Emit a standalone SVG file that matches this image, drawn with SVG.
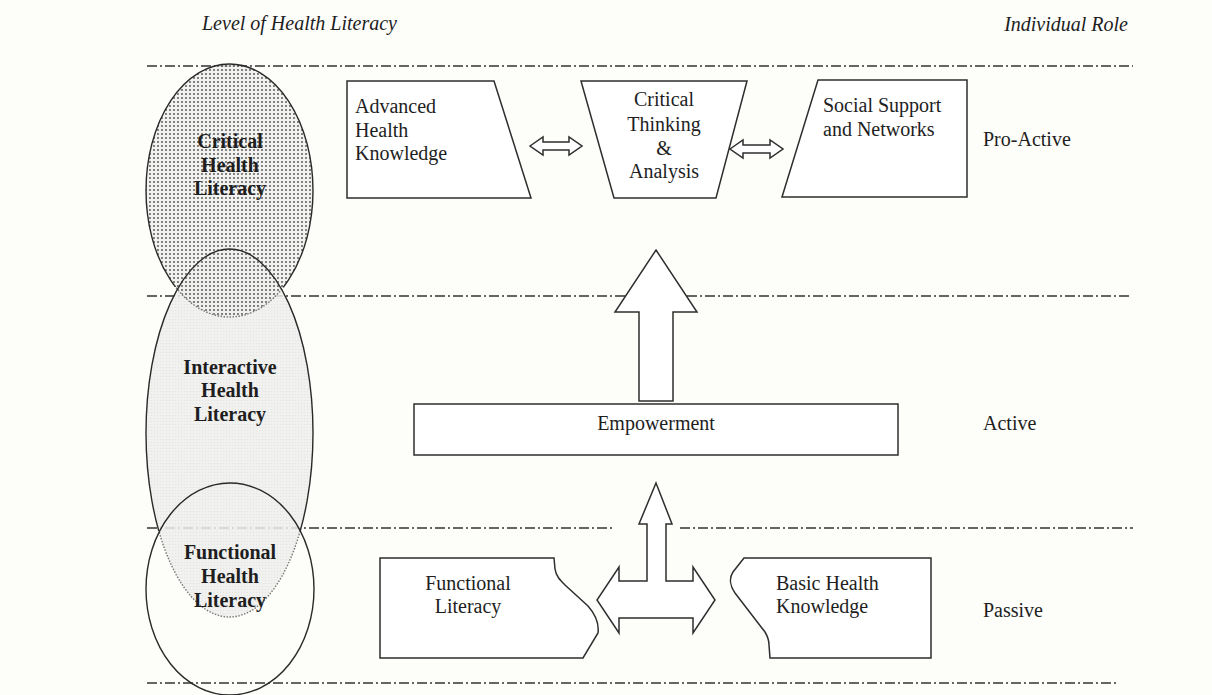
<svg xmlns="http://www.w3.org/2000/svg" width="1212" height="695" viewBox="0 0 1212 695">
<style>
  .t{font-family:"Liberation Serif","Times New Roman",serif;font-size:20px;fill:#1e1e1e}
  .b{font-weight:bold}
  .i{font-style:italic}
  .m{text-anchor:middle}
  .e{text-anchor:end}
  .shape{fill:#ffffff;stroke:#2e2e2e;stroke-width:1.5;stroke-linejoin:miter}
  .dd{stroke:#333;stroke-width:1.6;fill:none;stroke-dasharray:10 3 2 3}
  .ol{fill:none;stroke:#2a2a2a;stroke-width:1.4}
  .dot{fill:none;stroke:#777;stroke-width:1.4;stroke-dasharray:1.5 1.5}
</style>
<defs>
  <pattern id="pDots" width="4" height="4" patternUnits="userSpaceOnUse">
    <rect width="4" height="4" fill="#f0f0ee"/>
    <circle cx="2" cy="2" r="1.05" fill="#4a4a4a"/>
  </pattern>
  <pattern id="pLight" width="3" height="3" patternUnits="userSpaceOnUse">
    <rect width="3" height="3" fill="#efefed"/>
    <circle cx="1.5" cy="1.5" r="0.6" fill="#dcdcda"/>
  </pattern>
  <clipPath id="cTop"><rect x="0" y="0" width="1212" height="287"/></clipPath>
  <clipPath id="cBot"><rect x="0" y="287" width="1212" height="408"/></clipPath>
  <clipPath id="cTop2"><rect x="0" y="0" width="1212" height="531"/></clipPath>
  <clipPath id="cBot2"><rect x="0" y="531" width="1212" height="164"/></clipPath>
</defs>
<rect width="1212" height="695" fill="#fdfdfa"/>

<g id="headers">
  <text class="t i" x="202" y="30">Level of Health Literacy</text>
  <text class="t i e" x="1128" y="31">Individual Role</text>
</g>

<g id="level-lines">
  <line class="dd" x1="147" y1="66" x2="1133" y2="66"/>
  <line class="dd" x1="147" y1="296" x2="1130" y2="296"/>
  <line class="dd" x1="147" y1="528" x2="615" y2="528"/>
  <line class="dd" x1="680" y1="528" x2="1133" y2="528"/>
  <line class="dd" x1="147" y1="683" x2="1117" y2="683"/>
</g>

<g id="literacy-levels">
  <g id="interactive-health-literacy">
    <ellipse cx="229.5" cy="433" rx="83.5" ry="184" fill="url(#pLight)" opacity="0.85"/>
  </g>
  <g id="critical-health-literacy">
    <ellipse cx="229.5" cy="190.5" rx="83.5" ry="126.5" fill="url(#pDots)" opacity="0.85"/>
  </g>
  <g id="outlines">
    <ellipse class="ol" cx="229.5" cy="190.5" rx="83.5" ry="126.5" clip-path="url(#cTop)"/>
    <ellipse class="dot" cx="229.5" cy="190.5" rx="83.5" ry="126.5" clip-path="url(#cBot)"/>
    <ellipse class="ol" cx="229.5" cy="433" rx="83.5" ry="184" clip-path="url(#cTop2)"/>
    <ellipse class="dot" cx="229.5" cy="433" rx="83.5" ry="184" clip-path="url(#cBot2)"/>
  </g>
  <g id="functional-health-literacy">
    <ellipse class="ol" cx="230" cy="589" rx="84" ry="106"/>
  </g>
  <text class="t b m" x="230" y="148">Critical</text>
  <text class="t b m" x="230" y="172">Health</text>
  <text class="t b m" x="230" y="195">Literacy</text>
  <text class="t b m" x="230" y="374">Interactive</text>
  <text class="t b m" x="230" y="397">Health</text>
  <text class="t b m" x="230" y="421">Literacy</text>
  <text class="t b m" x="230" y="559">Functional</text>
  <text class="t b m" x="230" y="583">Health</text>
  <text class="t b m" x="230" y="607">Literacy</text>
</g>

<g id="connectors">
  <path class="shape" d="M530,146 L543,137 L543,142 L569,142 L569,137 L582,146 L569,155 L569,150 L543,150 L543,155 Z"/>
  <path class="shape" d="M730,149 L743,140 L743,145 L770,145 L770,140 L783,149 L770,158 L770,153 L743,153 L743,158 Z"/>
  <path class="shape" d="M656,250 L697,312 L673,312 L673,401 L639,401 L639,312 L615,312 Z"/>
  <path class="shape" d="M656,483 L672,524 L666,524 L666,581 L693,581 L693,567 L715,600 L693,633 L693,618 L619,618 L619,633 L597,600 L619,567 L619,581 L647,581 L647,524 L639,524 Z"/>
</g>

<g id="advanced-health-knowledge">
  <path class="shape" d="M347,81 L494,81 L531,198 L347,198 Z"/>
  <text class="t" x="355" y="113">Advanced</text>
  <text class="t" x="355" y="137">Health</text>
  <text class="t" x="355" y="160">Knowledge</text>
</g>

<g id="critical-thinking-analysis">
  <path class="shape" d="M581,81 L747,81 L716,198 L614,198 Z"/>
  <text class="t m" x="664" y="106">Critical</text>
  <text class="t m" x="664" y="131">Thinking</text>
  <text class="t m" x="664" y="155">&amp;</text>
  <text class="t m" x="664" y="178">Analysis</text>
</g>

<g id="social-support-networks">
  <path class="shape" d="M818,80 L967,80 L967,197 L782,197 Z"/>
  <text class="t" x="823" y="112">Social Support</text>
  <text class="t" x="823" y="136">and Networks</text>
</g>

<g id="empowerment">
  <rect class="shape" x="414" y="404" width="484" height="51"/>
  <text class="t m" x="656" y="430">Empowerment</text>
</g>

<g id="functional-literacy">
  <path class="shape" d="M380,558 L554,558 L555,569 C556,576 560,580 565,585 L588,606 C596,615 599,625 598,633 L583,658 L380,658 Z"/>
  <text class="t m" x="468" y="590">Functional</text>
  <text class="t m" x="468" y="613">Literacy</text>
</g>

<g id="basic-health-knowledge">
  <path class="shape" d="M744,558 L931,558 L931,658 L770,658 L769,645 C769,640 768,637 765,632 L735,593 C730,586 729,578 733,572 Z"/>
  <text class="t" x="776" y="590">Basic Health</text>
  <text class="t" x="776" y="613">Knowledge</text>
</g>

<g id="roles">
  <text class="t" x="983" y="146">Pro-Active</text>
  <text class="t" x="983" y="430">Active</text>
  <text class="t" x="983" y="617">Passive</text>
</g>
</svg>
